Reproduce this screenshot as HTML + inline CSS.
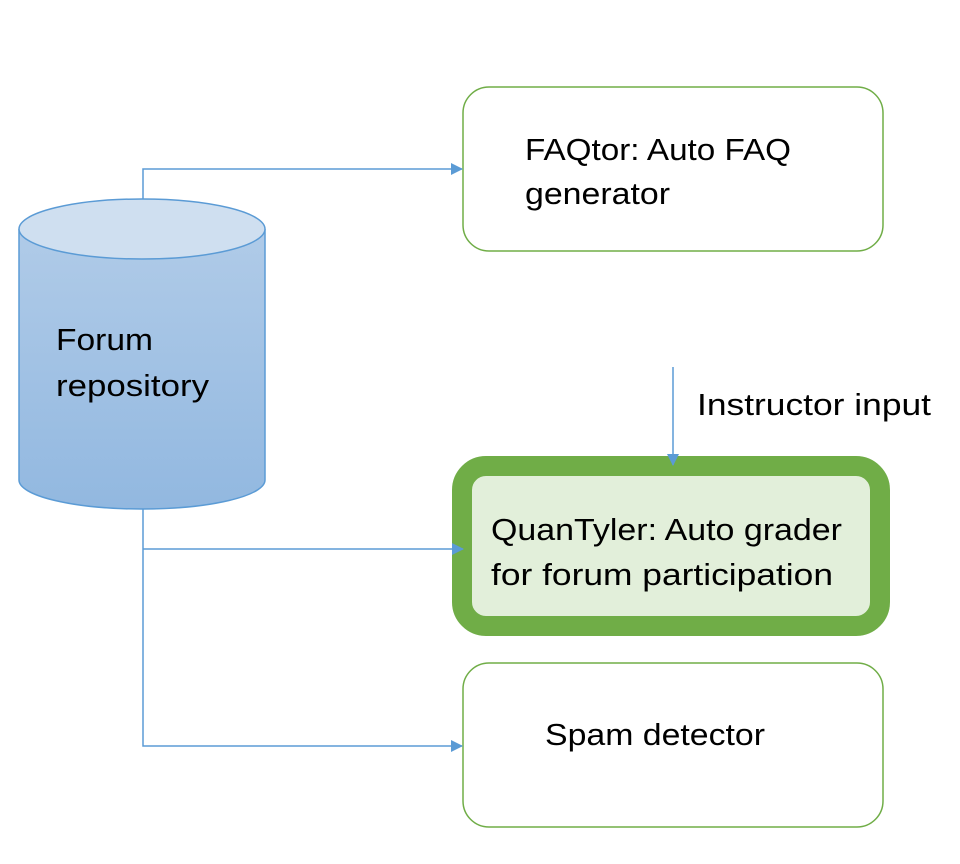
<!DOCTYPE html>
<html><head><meta charset="utf-8"><style>
html,body{margin:0;padding:0;background:#fff;}
svg{display:block;}
text{font-family:"Liberation Sans",sans-serif;font-size:31px;fill:#000;}
</style></head><body>
<svg width="960" height="864" viewBox="0 0 960 864" xmlns="http://www.w3.org/2000/svg">
<defs>
<linearGradient id="cg" x1="0" y1="0" x2="0" y2="1">
<stop offset="0" stop-color="#b0cbe8"/><stop offset="1" stop-color="#92b8e0"/>
</linearGradient>
<marker id="ar" markerWidth="12" markerHeight="12" refX="11" refY="6" orient="auto" markerUnits="userSpaceOnUse">
<path d="M0,0 L12,6 L0,12 z" fill="#5b9bd5"/>
</marker>
</defs>
<!-- cylinder -->
<path d="M19,229 V480 A123,29 0 0 0 265,480 V229" fill="url(#cg)" stroke="#5b9bd5" stroke-width="1.5"/>
<ellipse cx="142" cy="229" rx="123" ry="30" fill="#cfdff0" stroke="#5b9bd5" stroke-width="1.5"/>
<text x="56" y="350" textLength="97" lengthAdjust="spacingAndGlyphs">Forum</text>
<text x="56" y="396" textLength="153" lengthAdjust="spacingAndGlyphs">repository</text>
<!-- FAQ box -->
<rect x="463" y="87" width="420" height="164" rx="26" fill="#fff" stroke="#70ad47" stroke-width="1.5"/>
<text x="525" y="160" textLength="266" lengthAdjust="spacingAndGlyphs">FAQtor: Auto FAQ</text>
<text x="525" y="204" textLength="145" lengthAdjust="spacingAndGlyphs">generator</text>
<!-- Instructor input -->
<text x="697" y="415" textLength="234" lengthAdjust="spacingAndGlyphs">Instructor input</text>
<!-- QuanTyler -->
<rect x="462" y="466" width="418" height="160" rx="24" fill="#e2efda" stroke="#70ad47" stroke-width="20"/>
<text x="491" y="540" textLength="351" lengthAdjust="spacingAndGlyphs">QuanTyler: Auto grader</text>
<text x="491" y="585" textLength="342" lengthAdjust="spacingAndGlyphs">for forum participation</text>
<!-- Spam -->
<rect x="463" y="663" width="420" height="164" rx="26" fill="#fff" stroke="#70ad47" stroke-width="1.5"/>
<text x="545" y="745" textLength="220" lengthAdjust="spacingAndGlyphs">Spam detector</text>
<!-- connectors -->
<g fill="none" stroke="#5b9bd5" stroke-width="1.5">
<path d="M143,199 V169 H462" marker-end="url(#ar)"/>
<path d="M143,509 V746 H462" marker-end="url(#ar)"/>
<path d="M143,549 H463" marker-end="url(#ar)"/>
<path d="M673,367 V465" marker-end="url(#ar)"/>
</g>
</svg>
</body></html>
